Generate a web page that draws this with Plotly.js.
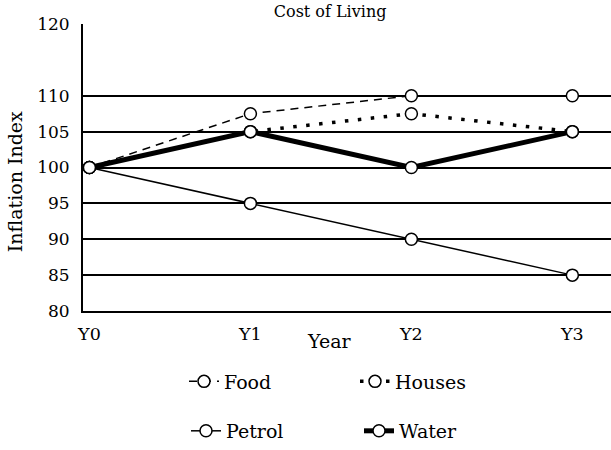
<!DOCTYPE html>
<html>
<head>
<meta charset="utf-8">
<script src="https://cdn.plot.ly/plotly-3.0.1.min.js"></script>
<style>html,body{margin:0;padding:0;background:#fff;}#chart{width:611px;height:450px;}</style>
</head>
<body>
<div id="chart"></div>
<script>
const years = ['Y0', 'Y1', 'Y2', 'Y3'];
const food = [100, 107.5, 110, 110];
const houses = [100, 105, 107.5, 105];
const petrol = [100, 95, 90, 85];
const water = [100, 105, 100, 105];
const yTicks = [80, 85, 90, 95, 100, 105, 110, 120];
const gridVals = [85, 90, 95, 100, 105, 110];

const FONT = "'DejaVu Serif', 'Liberation Serif', serif";
const marker = {symbol: 'circle', size: 12, color: '#fff', line: {color: '#000', width: 1.5}};

const traces = [
  {x: years, y: food, name: 'Food', mode: 'lines+markers', legend: 'legend',
   line: {color: '#000', width: 1.5, dash: '8px,6px'}, marker: marker},
  {x: years, y: houses, name: 'Houses', mode: 'lines+markers', legend: 'legend',
   line: {color: '#000', width: 3.5, dash: '3.5px,9.5px'}, marker: marker},
  {x: years, y: petrol, name: 'Petrol', mode: 'lines+markers', legend: 'legend2',
   line: {color: '#000', width: 1.5}, marker: marker},
  {x: years, y: water, name: 'Water', mode: 'lines+markers', legend: 'legend2',
   line: {color: '#000', width: 5}, marker: marker}
];

const layout = {
  width: 611, height: 450,
  margin: {l: 83, r: 0, t: 23.5, b: 136.3, pad: 0},
  paper_bgcolor: '#fff', plot_bgcolor: '#fff',
  font: {family: FONT, size: 17, color: '#000'},
  showlegend: true,
  title: {text: 'Cost of Living', font: {family: FONT, size: 16, color: '#000'},
          x: 0.468, xref: 'paper', xanchor: 'center', y: 0.975, yref: 'container', yanchor: 'middle'},
  xaxis: {
    type: 'category', range: [-0.04, 3.24],
    showgrid: false, zeroline: false,
    showline: true, linecolor: '#000', linewidth: 2,
    ticks: '', ticklabelstandoff: 6,
    tickfont: {family: FONT, size: 17.5, color: '#000'}
  },
  yaxis: {
    range: [80, 120], tickmode: 'array', tickvals: yTicks,
    showgrid: false, zeroline: false,
    showline: true, linecolor: '#000', linewidth: 2,
    ticks: '', ticklabelstandoff: 8,
    tickfont: {family: FONT, size: 17, color: '#000'},
    minor: {tickmode: 'array', tickvals: gridVals, showgrid: true, gridcolor: '#000', gridwidth: 2, ticks: ''}
  },
  annotations: [
    {text: 'Year', xref: 'paper', yref: 'paper', x: (329 - 83) / 528, y: (313.7 - 344) / 290.2,
     xanchor: 'center', yanchor: 'middle', showarrow: false, font: {family: FONT, size: 19, color: '#000'}},
    {text: 'Inflation Index', xref: 'paper', yref: 'paper', x: (15 - 83) / 528, y: (313.7 - 183.5) / 290.2,
     xanchor: 'center', yanchor: 'middle', textangle: -90, showarrow: false, font: {family: FONT, size: 19, color: '#000'}}
  ],
  legend: {orientation: 'h', x: (184 - 83) / 528, xanchor: 'left', y: (313.7 - 385) / 290.2, yanchor: 'middle',
           entrywidth: 126, entrywidthmode: 'pixels', font: {family: FONT, size: 19, color: '#000'},
           bgcolor: 'rgba(0,0,0,0)'},
  legend2: {orientation: 'h', x: (186 - 83) / 528, xanchor: 'left', y: (313.7 - 435) / 290.2, yanchor: 'middle',
           entrywidth: 128, entrywidthmode: 'pixels', font: {family: FONT, size: 19, color: '#000'},
           bgcolor: 'rgba(0,0,0,0)'}
};

Plotly.newPlot('chart', traces, layout, {displayModeBar: false, staticPlot: true});
</script>
</body>
</html>
